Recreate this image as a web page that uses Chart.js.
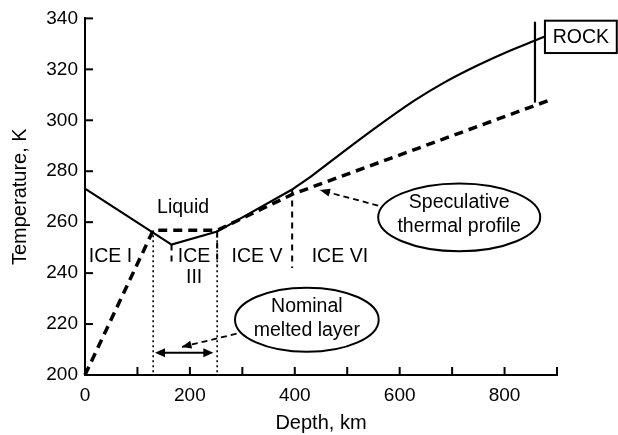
<!DOCTYPE html>
<html>
<head>
<meta charset="utf-8">
<script src="https://cdn.jsdelivr.net/npm/chart.js@4"></script>
<style>
  html, body { margin: 0; padding: 0; background: #fff; }
</style>
</head>
<body>
<canvas id="phase-chart" width="618" height="435"></canvas>
<script>
(function () {
  'use strict';

  // axis ticks
  const xTicks = [0, 100, 200, 300, 400, 500, 600, 700, 800, 900];
  const xTickLabels = ['0', '', '200', '', '400', '', '600', '', '800', ''];
  const yTicks = [200, 220, 240, 260, 280, 300, 320, 340];

  // melting curve through ice I, III and V
  const meltDepth = [0, 165, 252, 395];
  const meltTemp = [273.2, 251.2, 256.3, 272.8];

  // melting curve of ice VI up to the rock
  const deepMeltDepth = [395, 435, 500, 563, 630, 683, 747, 810, 858, 877];
  const deepMeltTemp = [272.8, 278.6, 288.8, 298.4, 308, 314.6, 321.4, 327.3, 331.3, 332.9];

  // speculative thermal profile
  const profileDepth = [0, 130, 252, 396, 887];
  const profileTemp = [200, 256.8, 256.8, 271, 308];

  // phase boundaries (dashed)
  const iceIIIDepth = [165, 165];
  const iceIIITemp = [251.2, 243];
  const iceVDepth = [252, 252];
  const iceVTemp = [256.3, 243];
  const iceVIDepth = [395, 395];
  const iceVITemp = [272.8, 242];

  // edges of the nominal melted layer (dotted)
  const layerTopDepth = [130, 130];
  const layerBotDepth = [252, 252];
  const layerTemp = [256.8, 200];

  // rock interface
  const rockDepth = [858, 858];
  const rockTemp = [338.7, 307];

  const pts = (xs, ys) => xs.map((v, i) => ({ x: v, y: ys[i] }));
  const FONT = '"Liberation Sans", Arial, Helvetica, sans-serif';

  function line(data, width, dash, extra) {
    return Object.assign({
      data: data,
      showLine: true,
      borderColor: '#000',
      backgroundColor: '#000',
      borderWidth: width,
      borderDash: dash,
      pointRadius: 0,
      tension: 0,
      clip: false
    }, extra || {});
  }

  function arrowHead(ctx, x0, y0, x1, y1, len, half) {
    const a = Math.atan2(y1 - y0, x1 - x0);
    ctx.save();
    ctx.setLineDash([]);
    ctx.beginPath();
    ctx.moveTo(x1, y1);
    ctx.lineTo(x1 - len * Math.cos(a) + half * Math.sin(a), y1 - len * Math.sin(a) - half * Math.cos(a));
    ctx.lineTo(x1 - len * Math.cos(a) - half * Math.sin(a), y1 - len * Math.sin(a) + half * Math.cos(a));
    ctx.closePath();
    ctx.fill();
    ctx.restore();
  }

  // labels, callouts, inward ticks
  const phaseNotes = {
    id: 'phaseNotes',
    afterDraw(chart) {
      const { ctx, chartArea: area, scales: { x, y } } = chart;
      const px = v => x.getPixelForValue(v);
      const py = v => y.getPixelForValue(v);
      ctx.save();
      ctx.strokeStyle = '#000';
      ctx.fillStyle = '#000';
      ctx.lineWidth = 2;

      xTicks.forEach(v => {
        ctx.beginPath();
        ctx.moveTo(px(v), area.bottom);
        ctx.lineTo(px(v), area.bottom - 8);
        ctx.stroke();
      });
      yTicks.forEach(v => {
        ctx.beginPath();
        ctx.moveTo(area.left, py(v));
        ctx.lineTo(area.left + 8, py(v));
        ctx.stroke();
      });

      ctx.font = '19.5px ' + FONT;
      ctx.textAlign = 'center';
      ctx.textBaseline = 'middle';
      [
        ['Liquid', 187, 265.7],
        ['ICE I', 48.6, 246.5],
        ['ICE', 208, 246.5],
        ['III', 208, 238.2],
        ['ICE V', 328, 246.5],
        ['ICE VI', 486, 246.5]
      ].forEach(t => ctx.fillText(t[0], px(t[1]), py(t[2])));

      // callout ellipses
      [
        { x0: 559, x1: 868, y0: 275.2, y1: 248.6, lines: [['Speculative', 267.5], ['thermal profile', 258.3]] },
        { x0: 286, x1: 560, y0: 234.3, y1: 209.1, lines: [['Nominal', 226.7], ['melted layer', 217.6]] }
      ].forEach(e => {
        const cx = (px(e.x0) + px(e.x1)) / 2, cy = (py(e.y0) + py(e.y1)) / 2;
        ctx.beginPath();
        ctx.ellipse(cx, cy, (px(e.x1) - px(e.x0)) / 2, (py(e.y1) - py(e.y0)) / 2, 0, 0, Math.PI * 2);
        ctx.fillStyle = '#fff';
        ctx.fill();
        ctx.stroke();
        ctx.fillStyle = '#000';
        e.lines.forEach(l => ctx.fillText(l[0], cx, py(l[1])));
      });

      // dashed pointers
      ctx.lineWidth = 1.8;
      [[559, 266.5, 448, 272.6], [289, 216.2, 184, 211]].forEach(a => {
        const x0 = px(a[0]), y0 = py(a[1]), x1 = px(a[2]), y1 = py(a[3]);
        ctx.setLineDash([6, 4]);
        ctx.beginPath();
        ctx.moveTo(x0, y0);
        ctx.lineTo(x1, y1);
        ctx.stroke();
        arrowHead(ctx, x0, y0, x1, y1, 10, 4);
      });
      ctx.setLineDash([]);

      // width of the melted layer
      ctx.lineWidth = 2;
      const ax0 = px(133.5), ax1 = px(244.7), ay = py(208.7);
      ctx.beginPath();
      ctx.moveTo(ax0 + 4, ay);
      ctx.lineTo(ax1 - 4, ay);
      ctx.stroke();
      arrowHead(ctx, ax1, ay, ax0, ay, 10, 4.5);
      arrowHead(ctx, ax0, ay, ax1, ay, 10, 4.5);

      // rock label
      const rx0 = px(877), rx1 = px(1014), ry0 = py(339.1), ry1 = py(326.4);
      ctx.strokeRect(rx0, ry0, rx1 - rx0, ry1 - ry0);
      ctx.fillText('ROCK', (rx0 + rx1) / 2, (ry0 + ry1) / 2 + 1);
      ctx.restore();
    }
  };

  new Chart(document.getElementById('phase-chart'), {
    type: 'scatter',
    data: {
      datasets: [
        line(pts(meltDepth, meltTemp), 2.2, []),
        line(pts(deepMeltDepth, deepMeltTemp), 2.2, [], { cubicInterpolationMode: 'monotone' }),
        line(pts(profileDepth, profileTemp), 3.5, [9, 6]),
        line(pts(iceIIIDepth, iceIIITemp), 2, [6, 5]),
        line(pts(iceVDepth, iceVTemp), 2, [6, 5]),
        line(pts(iceVIDepth, iceVITemp), 2, [6, 5]),
        line(pts(layerTopDepth, layerTemp), 1.6, [2, 3]),
        line(pts(layerBotDepth, layerTemp), 1.6, [2, 3]),
        line(pts(rockDepth, rockTemp), 2.2, [])
      ]
    },
    options: {
      responsive: false,
      animation: false,
      layout: { padding: { top: 15, right: 61, bottom: 0, left: 0 } },
      scales: {
        x: {
          type: 'linear',
          min: 0,
          max: 900,
          afterFit: s => { s.height = 60; },
          afterBuildTicks: s => { s.ticks = xTicks.map(v => ({ value: v })); },
          grid: { display: false, drawTicks: false },
          border: { display: true, color: '#000', width: 2 },
          ticks: {
            color: '#000',
            padding: 9,
            maxRotation: 0,
            autoSkip: false,
            font: { family: FONT, size: 19 },
            callback: (v, i) => xTickLabels[i]
          },
          title: {
            display: true,
            text: 'Depth, km',
            color: '#000',
            font: { family: FONT, size: 20 },
            padding: { top: 0, bottom: 0 }
          }
        },
        y: {
          type: 'linear',
          min: 200,
          max: 340,
          afterFit: s => { s.width = 85; },
          afterBuildTicks: s => { s.ticks = yTicks.map(v => ({ value: v })); },
          grid: { display: false, drawTicks: false },
          border: { display: true, color: '#000', width: 2 },
          ticks: {
            color: '#000',
            padding: 7,
            autoSkip: false,
            font: { family: FONT, size: 19 },
            callback: v => String(v)
          },
          title: {
            display: true,
            text: 'Temperature, K',
            color: '#000',
            font: { family: FONT, size: 20 },
            padding: { top: 8, bottom: 0 }
          }
        }
      },
      plugins: {
        legend: { display: false },
        tooltip: { enabled: false }
      }
    },
    plugins: [phaseNotes]
  });
})();
</script>
</body>
</html>
